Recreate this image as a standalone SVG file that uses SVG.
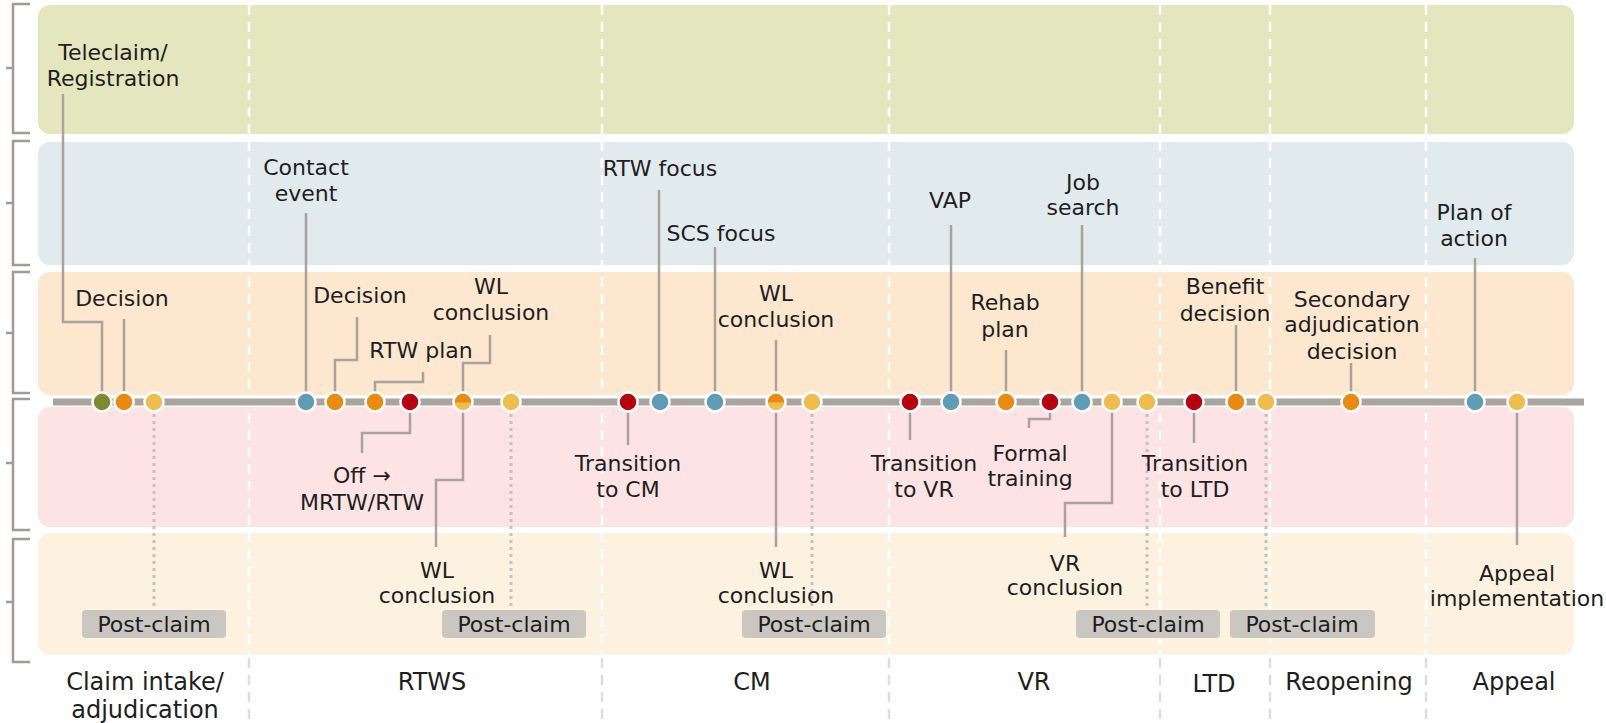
<svg xmlns="http://www.w3.org/2000/svg" width="1606" height="723" viewBox="0 0 1606 723">
<style>
text{font-family:"DejaVu Sans",Verdana,sans-serif;font-size:22px;fill:#1e1e1e;text-anchor:middle}
.ph{font-size:24px}
.c{fill:none;stroke:#aaa39d;stroke-width:2.5}
.d{fill:none;stroke:#c6c1bc;stroke-width:3;stroke-dasharray:3 4}
.br{fill:none;stroke:#a09b96;stroke-width:2.5}
.dv{stroke:#ffffff;stroke-width:2.5;stroke-dasharray:10 7}
.dvg{stroke:#dedede;stroke-width:2.5;stroke-dasharray:10 7}
.dot{stroke:#ffffff;stroke-width:2.5}
.o{fill:#ea8a0e}.y{fill:#f0bc4b}.b{fill:#5f9cb6}.r{fill:#b7000e}.g{fill:#7e8a30}
.pc{fill:#cac6c2}
</style>
<defs>
<clipPath id="top"><rect x="-12" y="-12" width="24" height="12.5"/></clipPath>
</defs>

<g id="bands">
<rect x="38" y="5" width="1536" height="129" rx="12" fill="#e4e7bd"/>
<rect x="38" y="142" width="1536" height="123" rx="12" fill="#e1ebee"/>
<rect x="38" y="272" width="1536" height="123" rx="12" fill="#fde7cf"/>
<rect x="38" y="407" width="1536" height="120" rx="12" fill="#fde3e3"/>
<rect x="38" y="533" width="1536" height="122" rx="12" fill="#fdf2e0"/>
</g>

<g id="brackets">
<path class="br" d="M30 4H13V133H30M13 68H6"/>
<path class="br" d="M30 141H13V265H30M13 203H6"/>
<path class="br" d="M30 272H13V393H30M13 333H6"/>
<path class="br" d="M30 399H13V530H30M13 463H6"/>
<path class="br" d="M30 539H13V662H30M13 602H6"/>
</g>

<g id="dividers">
<path class="dv" d="M249 5V655M602 5V655M889 5V655M1160 5V655M1270 5V655M1426 5V655"/>
<path class="dvg" d="M249 658V723M602 658V723M889 658V723M1160 658V723M1270 658V723M1426 658V723"/>
</g>

<g id="timeline">
<line x1="53" y1="402" x2="1584" y2="402" stroke="#aba49e" stroke-width="7"/>
</g>

<g id="connectors">
<path class="c" d="M63 94V322H102V392"/>
<path class="c" d="M124 319V392"/>
<path class="d" d="M154 414V606"/>
<path class="c" d="M306 213V392"/>
<path class="c" d="M357 317V360H335V392"/>
<path class="c" d="M423 372V382H375V392"/>
<path class="c" d="M490 335V363H463V392"/>
<path class="c" d="M410 412V433H362V453"/>
<path class="c" d="M463 412V480H436V547"/>
<path class="d" d="M511 414V606"/>
<path class="c" d="M659 190V392"/>
<path class="c" d="M715 247V392"/>
<path class="c" d="M776 340V392"/>
<path class="c" d="M628 412V445"/>
<path class="c" d="M776 412V547"/>
<path class="d" d="M812 414V606"/>
<path class="c" d="M910 412V440"/>
<path class="c" d="M951 225V392"/>
<path class="c" d="M1006 350V392"/>
<path class="c" d="M1050 412V419H1029V428"/>
<path class="c" d="M1082 225V392"/>
<path class="c" d="M1112 412V503H1065V537"/>
<path class="d" d="M1147 414V606"/>
<path class="c" d="M1194 412V443"/>
<path class="c" d="M1236 325V392"/>
<path class="d" d="M1266 414V606"/>
<path class="c" d="M1351 363V392"/>
<path class="c" d="M1475 258V392"/>
<path class="c" d="M1517 412V545"/>
</g>

<g id="dots">
<circle class="dot g" cx="102" cy="402" r="9.5"/>
<circle class="dot o" cx="124" cy="402" r="9.5"/>
<circle class="dot y" cx="154" cy="402" r="9.5"/>
<circle class="dot b" cx="306" cy="402" r="9.5"/>
<circle class="dot o" cx="335" cy="402" r="9.5"/>
<circle class="dot o" cx="375" cy="402" r="9.5"/>
<circle class="dot r" cx="410" cy="402" r="9.5"/>
<g transform="translate(463 402)"><circle class="y" r="9.5"/><circle class="o" r="9.5" clip-path="url(#top)"/><circle r="9.5" fill="none" stroke="#fff" stroke-width="2.5"/></g>
<circle class="dot y" cx="511" cy="402" r="9.5"/>
<circle class="dot r" cx="628" cy="402" r="9.5"/>
<circle class="dot b" cx="660" cy="402" r="9.5"/>
<circle class="dot b" cx="715" cy="402" r="9.5"/>
<g transform="translate(776 402)"><circle class="y" r="9.5"/><circle class="o" r="9.5" clip-path="url(#top)"/><circle r="9.5" fill="none" stroke="#fff" stroke-width="2.5"/></g>
<circle class="dot y" cx="812" cy="402" r="9.5"/>
<circle class="dot r" cx="910" cy="402" r="9.5"/>
<circle class="dot b" cx="951" cy="402" r="9.5"/>
<circle class="dot o" cx="1006" cy="402" r="9.5"/>
<circle class="dot r" cx="1050" cy="402" r="9.5"/>
<circle class="dot b" cx="1082" cy="402" r="9.5"/>
<circle class="dot y" cx="1112" cy="402" r="9.5"/>
<circle class="dot y" cx="1147" cy="402" r="9.5"/>
<circle class="dot r" cx="1194" cy="402" r="9.5"/>
<circle class="dot o" cx="1236" cy="402" r="9.5"/>
<circle class="dot y" cx="1266" cy="402" r="9.5"/>
<circle class="dot o" cx="1351" cy="402" r="9.5"/>
<circle class="dot b" cx="1475" cy="402" r="9.5"/>
<circle class="dot y" cx="1517" cy="402" r="9.5"/>
</g>

<g id="ev-teleclaim"><text x="113" y="60">Teleclaim/</text><text x="113" y="86">Registration</text></g>
<g id="ev-decision1"><text x="122" y="306">Decision</text></g>
<g id="ev-contact"><text x="306" y="175">Contact</text><text x="306" y="201">event</text></g>
<g id="ev-decision2"><text x="360" y="303">Decision</text></g>
<g id="ev-rtwplan"><text x="421" y="358">RTW plan</text></g>
<g id="ev-wl1"><text x="491" y="294">WL</text><text x="491" y="320">conclusion</text></g>
<g id="ev-off"><text x="362" y="483">Off →</text><text x="362" y="510">MRTW/RTW</text></g>
<g id="ev-wl2"><text x="437" y="578">WL</text><text x="437" y="603">conclusion</text></g>
<g id="ev-rtwfocus"><text x="660" y="176">RTW focus</text></g>
<g id="ev-scsfocus"><text x="721" y="241">SCS focus</text></g>
<g id="ev-wl3"><text x="776" y="301">WL</text><text x="776" y="327">conclusion</text></g>
<g id="ev-tcm"><text x="628" y="471">Transition</text><text x="628" y="497">to CM</text></g>
<g id="ev-wl4"><text x="776" y="578">WL</text><text x="776" y="603">conclusion</text></g>
<g id="ev-vap"><text x="950" y="208">VAP</text></g>
<g id="ev-rehab"><text x="1005" y="310">Rehab</text><text x="1005" y="337">plan</text></g>
<g id="ev-job"><text x="1083" y="190">Job</text><text x="1083" y="215">search</text></g>
<g id="ev-tvr"><text x="924" y="471">Transition</text><text x="924" y="497">to VR</text></g>
<g id="ev-formal"><text x="1030" y="461">Formal</text><text x="1030" y="486">training</text></g>
<g id="ev-vrc"><text x="1065" y="571">VR</text><text x="1065" y="595">conclusion</text></g>
<g id="ev-benefit"><text x="1225" y="294">Benefit</text><text x="1225" y="321">decision</text></g>
<g id="ev-tltd"><text x="1195" y="471">Transition</text><text x="1195" y="497">to LTD</text></g>
<g id="ev-secondary"><text x="1352" y="307">Secondary</text><text x="1352" y="332">adjudication</text><text x="1352" y="359">decision</text></g>
<g id="ev-plan"><text x="1474" y="220">Plan of</text><text x="1474" y="246">action</text></g>
<g id="ev-appeal"><text x="1517" y="581">Appeal</text><text x="1517" y="606">implementation</text></g>

<g id="post-claim-1"><rect class="pc" x="82" y="610" width="144" height="28" rx="4"/><text x="154" y="632">Post-claim</text></g>
<g id="post-claim-2"><rect class="pc" x="442" y="610" width="144" height="28" rx="4"/><text x="514" y="632">Post-claim</text></g>
<g id="post-claim-3"><rect class="pc" x="742" y="610" width="144" height="28" rx="4"/><text x="814" y="632">Post-claim</text></g>
<g id="post-claim-4"><rect class="pc" x="1076" y="610" width="144" height="28" rx="4"/><text x="1148" y="632">Post-claim</text></g>
<g id="post-claim-5"><rect class="pc" x="1230" y="610" width="145" height="28" rx="4"/><text x="1302" y="632">Post-claim</text></g>

<g id="phases">
<text class="ph" x="145" y="690">Claim intake/</text><text class="ph" x="145" y="718">adjudication</text>
<text class="ph" x="432" y="690">RTWS</text>
<text class="ph" x="752" y="690">CM</text>
<text class="ph" x="1034" y="690">VR</text>
<text class="ph" x="1214" y="692">LTD</text>
<text class="ph" x="1349" y="690">Reopening</text>
<text class="ph" x="1514" y="690">Appeal</text>
</g>
</svg>
